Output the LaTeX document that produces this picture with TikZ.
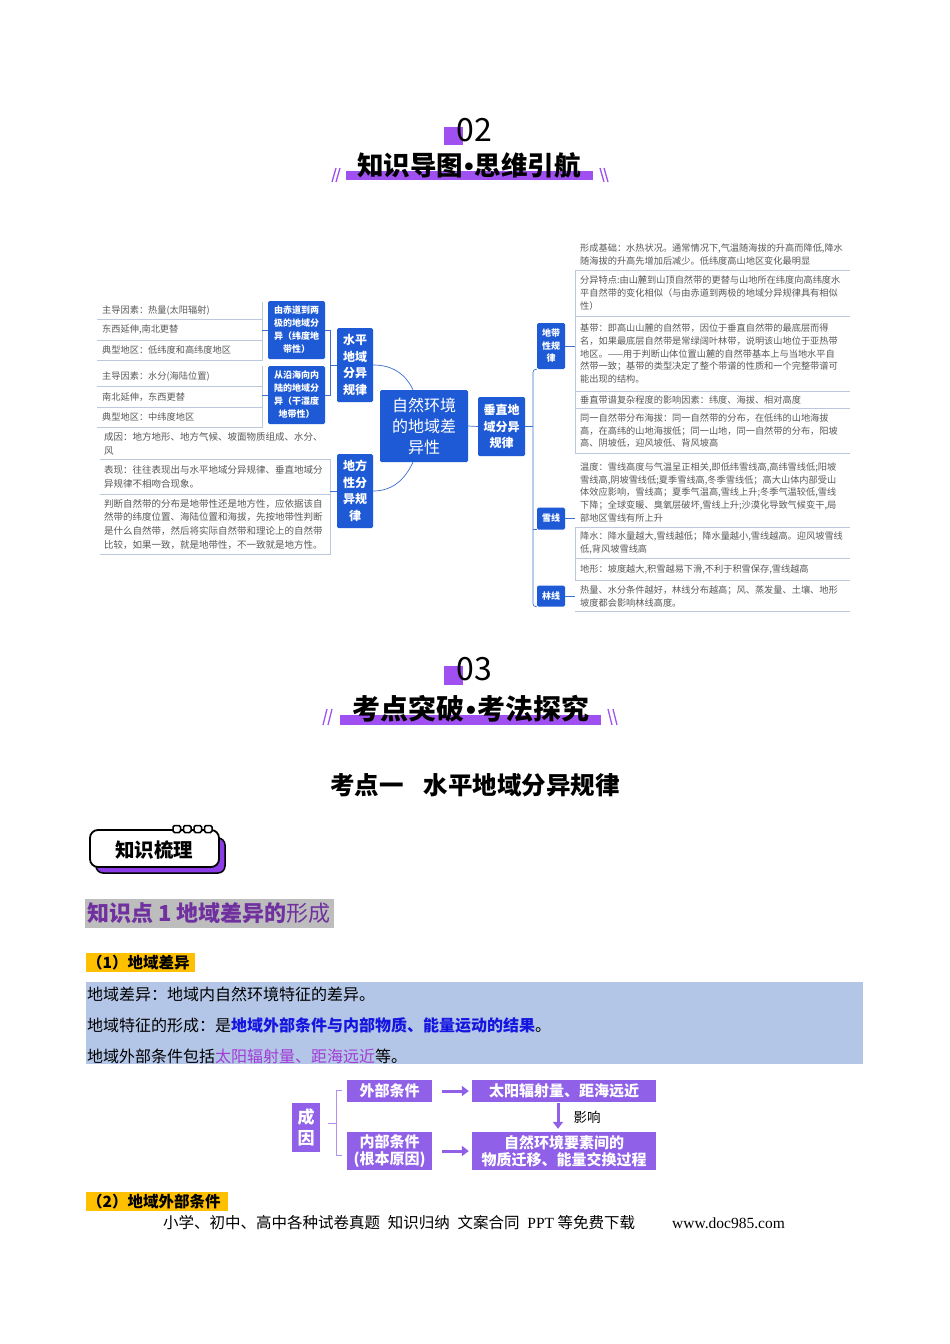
\documentclass[tikz,border=0pt]{standalone}
\usepackage{fontspec}
\setmainfont{Noto Sans CJK SC}
\newfontfamily\serifl{Liberation Serif}
\newfontfamily\latinsans{Liberation Sans}
\usetikzlibrary{arrows.meta,calc}
\newcommand\myfs[2]{\fontsize{#1}{#2}\selectfont}
\newcommand\midbul{{\latinsans\bfseries\kern0.05em•\kern0.05em}}
\definecolor{mmblue}{HTML}{1E5AD6}
\definecolor{leafgray}{HTML}{595959}
\definecolor{leafline}{HTML}{BCC8DC}
\definecolor{connblue}{HTML}{3D6FD0}
\definecolor{hpurple}{HTML}{A050F0}
\definecolor{bpurple}{HTML}{8C3CE6}
\definecolor{flowp}{HTML}{9060E8}
\definecolor{kpurple}{HTML}{7030A0}
\definecolor{kgray}{HTML}{BDBDBD}
\definecolor{orangebg}{HTML}{FFC000}
\definecolor{lightblue}{HTML}{B4C6E7}
\definecolor{txtblue}{HTML}{1515E0}
\definecolor{txtpurple}{HTML}{A23CD6}
\tikzset{
  bluebox/.style={fill=mmblue, text=white, rounded corners=1.5pt, align=center, inner sep=0pt},
  leafR/.style={anchor=north west, text width=265pt, inner xsep=5pt, inner ysep=0pt, align=left, text=leafgray, font=\myfs{9.2}{12.7}},
  leafL/.style={anchor=north west, text width=155pt, inner xsep=5pt, inner ysep=0pt, align=left, text=leafgray, font=\myfs{9.2}{12.7}},
  leafD/.style={anchor=north west, text width=222pt, inner xsep=4pt, inner ysep=0pt, align=left, text=leafgray, font=\myfs{9.5}{13.6}},
  lline/.style={draw=leafline, line width=0.7pt},
  conn/.style={draw=connblue, line width=0.7pt},
  flowbox/.style={fill=flowp, text=white, align=center, inner sep=0pt, font=\bfseries\myfs{15}{17.5}},
  farrow/.style={draw=flowp, line width=3pt, -{Triangle[length=7pt,width=10pt]}},
  brk/.style={draw=flowp!70, line width=0.8pt},
  slash/.style={draw=hpurple, line width=1.3pt},
  tagbg/.style={anchor=west, inner sep=1pt, font=\bfseries\myfs{15.5}{18}}
}
\begin{document}
\begin{tikzpicture}[x=1pt,y=-1pt]
\useasboundingbox (0,0) rectangle (950,1344);
\fill[white] (0,0) rectangle (950,1344);

% ===== header 02 =====
\fill[hpurple] (444,127) rectangle (463,145);
\node[font=\myfs{32}{32}] (n02) at (474,130) {02};
\fill[hpurple] (346,171) rectangle (593,180);
\node[font=\bfseries\myfs{26.5}{27}] (t02) at (469,165) {知识导图\midbul 思维引航};
\draw[slash] (332,182) -- (336,168) (336,182) -- (340,168);
\draw[slash] (600,168) -- (604,182) (604,168) -- (608,182);

% ===== mind map: blue nodes =====
\node[bluebox, font=\bfseries\myfs{9}{13}, minimum width=57pt, minimum height=58pt] (B1) at (296.5,330) {由赤道到两\\极的地域分\\异（纬度地\\带性）};
\node[bluebox, font=\bfseries\myfs{9}{13}, minimum width=57pt, minimum height=58pt] (B2) at (296.5,395) {从沿海向内\\陆的地域分\\异（干湿度\\地带性）};
\node[bluebox, font=\bfseries\myfs{12}{16.5}, minimum width=36pt, minimum height=74pt] (shuiping) at (355,365) {水平\\地域\\分异\\规律};
\node[bluebox, font=\myfs{16}{21}, minimum width=88pt, minimum height=72pt] (central) at (424,426) {自然环境\\的地域差\\异性};
\node[bluebox, font=\bfseries\myfs{12}{16.5}, minimum width=47pt, minimum height=59pt] (chuizhi) at (501.5,426.5) {垂直地\\域分异\\规律};
\node[bluebox, font=\bfseries\myfs{12}{16.5}, minimum width=36pt, minimum height=74pt] (difang) at (355,491) {地方\\性分\\异规\\律};
\node[bluebox, font=\bfseries\myfs{9}{12.5}, minimum width=28pt, minimum height=46pt] (dtx) at (551,346) {地带\\性规\\律};
\node[bluebox, font=\bfseries\myfs{9}{12.5}, minimum width=28pt, minimum height=22pt] (xx) at (551,518.5) {雪线};
\node[bluebox, font=\bfseries\myfs{9}{12.5}, minimum width=28pt, minimum height=21pt] (lx) at (551,596) {林线};

% ===== left leaves =====
\node[leafL, minimum height=17pt] (L1a) at (97,302) {主导因素：热量(太阳辐射)};
\node[leafL, minimum height=21pt] (L1b) at (97,319) {东西延伸,南北更替};
\node[leafL, minimum height=20pt] (L1c) at (97,340) {典型地区：低纬度和高纬度地区};
\node[leafL, minimum height=20pt] (L2a) at (97,366) {主导因素：水分(海陆位置)};
\node[leafL, minimum height=21pt] (L2b) at (97,386) {南北延伸，东西更替};
\node[leafL, minimum height=20pt] (L2c) at (97,407) {典型地区：中纬度地区};
\foreach \n in {L1a,L1b,L1c,L2a,L2b,L2c}
  \draw[lline] (\n.north east) -- (\n.south east) -- (\n.south west);

\node[leafD, minimum height=31pt] (D1) at (100,428) {成因：地方地形、地方气候、坡面物质组成、水分、\\风};
\node[leafD, minimum height=35pt] (D2) at (100,459) {表现：往往表现出与水平地域分异规律、垂直地域分\\异规律不相吻合现象。};
\node[leafD, minimum height=60pt] (D3) at (100,494) {判断自然带的分布是地带性还是地方性，应依据该自\\然带的纬度位置、海陆位置和海拔，先按地带性判断\\是什么自然带，然后将实际自然带和理论上的自然带\\比较，如果一致，就是地带性，不一致就是地方性。};
\draw[lline] (D1.south west) -- (D1.south east);
\foreach \n in {D2,D3}
  \draw[lline] (\n.north east) -- (\n.south east) -- (\n.south west);

% ===== right leaves =====
\node[leafR, minimum height=32pt] (R1) at (575,238) {形成基础：水热状况。通常情况下,气温随海拔的升高而降低,降水\\随海拔的升高先增加后减少。低纬度高山地区变化最明显};
\node[leafR, minimum height=46pt] (R2) at (575,270) {分异特点:由山麓到山顶自然带的更替与山地所在纬度向高纬度水\\平自然带的变化相似（与由赤道到两极的地域分异规律具有相似\\性）};
\node[leafR, minimum height=75pt] (R3) at (575,316) {基带：即高山山麓的自然带，因位于垂直自然带的最底层而得\\名，如果最底层自然带是常绿阔叶林带，说明该山地位于亚热带\\地区。——用于判断山体位置山麓的自然带基本上与当地水平自\\然带一致；基带的类型决定了整个带谱的性质和一个完整带谱可\\能出现的结构。};
\node[leafR, minimum height=17pt] (R4) at (575,391) {垂直带谱复杂程度的影响因素：纬度、海拔、相对高度};
\node[leafR, minimum height=45pt] (R5) at (575,408) {同一自然带分布海拔：同一自然带的分布，在低纬的山地海拔\\高，在高纬的山地海拔低；同一山地，同一自然带的分布，阳坡\\高、阴坡低，迎风坡低、背风坡高};
\node[leafR, minimum height=70pt] (S1) at (575,457) {温度：雪线高度与气温呈正相关,即低纬雪线高,高纬雪线低;阳坡\\雪线高,阴坡雪线低;夏季雪线高,冬季雪线低；高大山体内部受山\\体效应影响，雪线高；夏季气温高,雪线上升;冬季气温较低,雪线\\下降；全球变暖、臭氧层破坏,雪线上升;沙漠化导致气候变干,局\\部地区雪线有所上升};
\node[leafR, minimum height=31pt] (S2) at (575,527) {降水：降水量越大,雪线越低；降水量越小,雪线越高。迎风坡雪线\\低,背风坡雪线高};
\node[leafR, minimum height=22pt] (S3) at (575,558) {地形：坡度越大,积雪越易下滑,不利于积雪保存,雪线越高};
\node[leafR, minimum height=30pt] (T1) at (575,581) {热量、水分条件越好，林线分布越高；风、蒸发量、土壤、地形\\坡度都会影响林线高度。};
\foreach \n in {R1,S1,T1}
  \draw[lline] (\n.south west) -- (\n.south east);
\foreach \n in {R2,R3,R4,R5,S2,S3}
  \draw[lline] (\n.north west) -- (\n.south west) -- (\n.south east);

% ===== connectors =====
\draw[conn] (shuiping.west) -- ++(-6,0) coordinate (sj);
\draw[conn] (B1.east) -| (sj) |- (B2.east);
\draw[conn] (B1.west) -- (B1.west -| L1b.east);
\draw[conn] (B2.west) -- (B2.west -| L2b.east);
\draw[conn] (difang.west) -- (difang.west -| D2.east);
\coordinate (ca) at ($(central.north)+(-11,0)$);
\coordinate (cb) at ($(central.south)+(-11,0)$);
\draw[conn] (shuiping.east) to[out=0,in=115] (ca);
\draw[conn] (cb) to[out=-115,in=0] (difang.east);
\draw[conn] (central.east) -- (chuizhi.west);
\coordinate (vsp) at (533,426.5);
\draw[conn] (chuizhi.east) -- (vsp);
\draw[conn, rounded corners=3pt] (dtx.south west) -| (vsp) |- (lx.south west);
\draw[conn] (xx.south west) -- (xx.south west -| vsp);
\draw[conn] (dtx.east) -- (dtx.east -| R3.west);
\draw[conn] (xx.east) -- (xx.east -| S1.west);
\draw[conn] (lx.east) -- (lx.east -| T1.west);

% ===== header 03 =====
\fill[hpurple] (444,666) rectangle (463,685);
\node[font=\myfs{32}{32}] (n03) at (474,669) {03};
\fill[hpurple] (340,715) rectangle (601,725);
\node[font=\bfseries\myfs{28}{28}] (t03) at (471,709) {考点突破\midbul 考法探究};
\draw[slash] (323,725) -- (327,709) (328,725) -- (332,709);
\draw[slash] (608,709) -- (612,725) (613,709) -- (617,725);

\node[font=\bfseries\myfs{24.5}{25}] (kd1) at (475,785) {考点一\hspace{0.8em}水平地域分异规律};

% ===== badge =====
\draw[fill=bpurple, draw=black, line width=1.5pt, rounded corners=7pt] (96,838) rectangle (225,873);
\draw[fill=white, draw=black, line width=1.8pt, rounded corners=8pt] (90,830) rectangle (219,867);
\foreach \bx in {173,183.5,194,204.5}
  \draw[fill=white, draw=black, line width=1.5pt, rounded corners=1.5pt] (\bx,825.5) rectangle ++(7.5,7);
\node[font=\bfseries\myfs{19.5}{20}] (zssl) at (154,850) {知识梳理};

% ===== knowledge point =====
\fill[kgray] (85,899) rectangle (334,928);
\node[anchor=west, inner sep=1pt, text=kpurple, font=\myfs{22}{22}] (kp1) at (86,913.5) {\textbf{知识点 1 地域差异的}形成};

\fill[orangebg] (86,953) rectangle (195,972);
\node[tagbg] (tag1) at (86,962.5) {（1）地域差异};

\fill[lightblue] (86,982) rectangle (863,1064);
\node[anchor=west, inner sep=1pt, font=\myfs{16}{18}] (line1) at (86,994) {地域差异：地域内自然环境特征的差异。};
\node[anchor=west, inner sep=1pt, font=\myfs{16}{18}] (line2) at (86,1025) {地域特征的形成：是\textcolor{txtblue}{\textbf{地域外部条件与内部物质、能量运动的结果}}。};
\node[anchor=west, inner sep=1pt, font=\myfs{16}{18}] (line3) at (86,1056) {地域外部条件包括\textcolor{txtpurple}{太阳辐射量、距海远近}等。};

% ===== flow diagram =====
\node[flowbox, font=\bfseries\myfs{17}{21}, minimum width=28pt, minimum height=49pt] (chengyin) at (306,1127.5) {成\\因};
\node[flowbox, minimum width=85pt, minimum height=22pt] (wbtj) at (389.5,1091) {外部条件};
\node[flowbox, minimum width=184pt, minimum height=22pt] (tyfs) at (564,1091) {太阳辐射量、距海远近};
\node[flowbox, minimum width=85pt, minimum height=38pt] (nbtj) at (389.5,1151) {内部条件\\(根本原因)};
\node[flowbox, minimum width=184pt, minimum height=38pt] (zrhj) at (564,1151) {自然环境要素间的\\物质迁移、能量交换过程};
\draw[farrow, shorten <=10pt, shorten >=3pt] (wbtj.east) -- (tyfs.west);
\draw[farrow, shorten <=10pt, shorten >=3pt] (nbtj.east) -- (zrhj.west);
\draw[farrow, shorten <=1pt, shorten >=3pt] ($(tyfs.south)+(-6,0)$) -- ($(zrhj.north)+(-6,0)$);
\node[font=\myfs{13.5}{14}] (yx) at (587,1117) {影响};
\draw[brk] ($(wbtj.west)+(-5,-1)$) -- ++(-5,0) |- ($(nbtj.west)+(-5,4)$);
\draw[brk] ($(chengyin.east)+(8,-4.5)$) -- ++(9,0);

\fill[orangebg] (86,1192) rectangle (228,1211);
\node[tagbg] (tag2) at (86,1201.5) {（2）地域外部条件};

% ===== footer =====
\node[anchor=west, inner sep=0pt, font=\myfs{15.5}{16}] (foot1) at (163,1223) {小学、初中、高中各种试卷真题\hspace{0.5em}知识归纳\hspace{0.5em}文案合同\hspace{0.5em}{\serifl PPT} 等免费下载};
\node[anchor=west, inner sep=0pt, font=\serifl\myfs{15.5}{16}] (foot2) at (672,1223) {www.doc985.com};
\end{tikzpicture}
\end{document}
